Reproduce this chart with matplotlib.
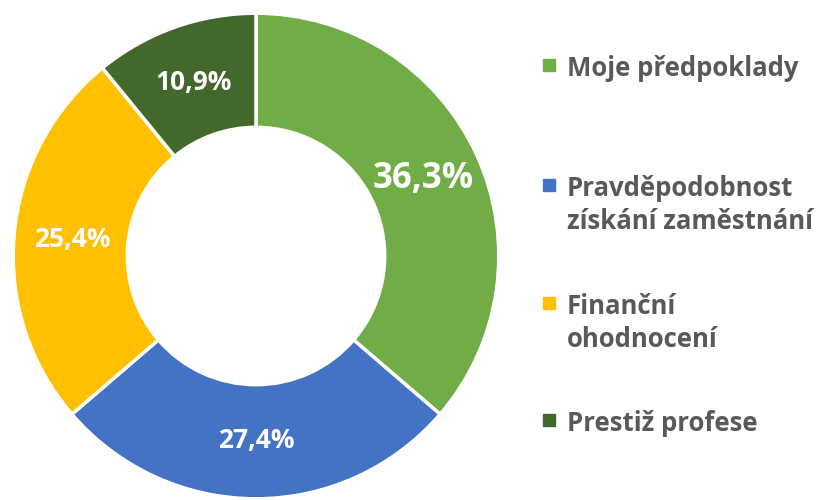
import matplotlib
matplotlib.use("Agg")
import matplotlib.pyplot as plt
from matplotlib.patches import Rectangle

labels = ["Moje předpoklady", "Pravděpodobnost\nzískání zaměstnání",
          "Finanční\nohodnocení", "Prestiž profese"]
values = [36.3, 27.4, 25.4, 10.9]
colors = ["#70AD47", "#4472C4", "#FFC000", "#43682B"]
label_sizes = [25, 19, 19, 19]

plt.rcParams['font.family'] = ['Open Sans', 'DejaVu Sans']

fig = plt.figure(figsize=(8.17, 5), dpi=100)
ax = fig.add_axes([12 / 817, 0.0, 488 / 817, 0.976])

wedges, texts, autotexts = ax.pie(
    values, colors=colors, startangle=90, counterclock=False,
    autopct=lambda p: f"{p:.1f}%".replace(".", ","), pctdistance=0.76,
    wedgeprops=dict(width=0.47, edgecolor="white", linewidth=2.5))
for t, s in zip(autotexts, label_sizes):
    t.set_color("white")
    t.set_fontweight("bold")
    t.set_fontsize(s)
ax.set_xlim(-1.005, 1.005)
ax.set_ylim(-1.005, 1.005)
ax.set_aspect("equal")

# legend drawn by hand to match spacing of the original
leg_y = [65, 185, 303, 420]
for lab, col, y in zip(labels, colors, leg_y):
    fig.patches.append(Rectangle((543 / 817, 1 - (y + 6) / 500), 12 / 817, 12 / 500,
                                 transform=fig.transFigure, color=col))
    fig.text(567 / 817, 1 - (y - 10) / 500, lab, fontsize=18.5, fontweight="bold",
             color="#595959", va="top", ha="left", linespacing=1.27)

fig.savefig("out.png", dpi=100)
